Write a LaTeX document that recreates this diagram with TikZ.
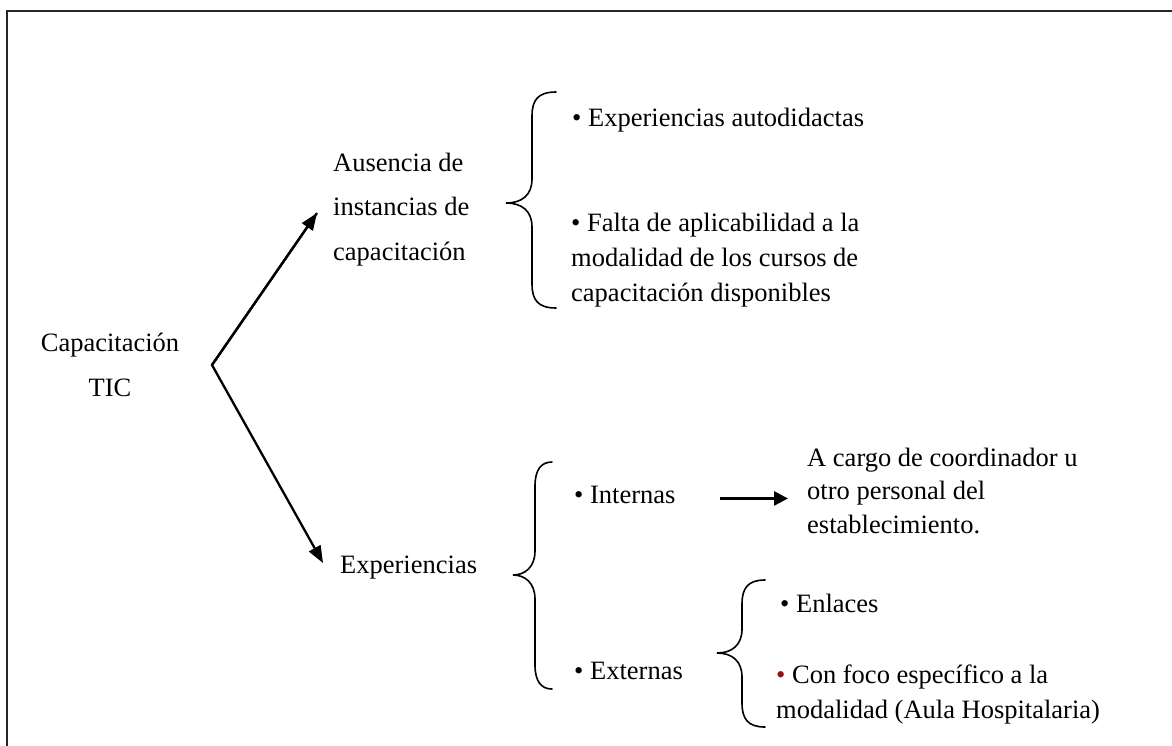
\documentclass[tikz,border=0pt]{standalone}
\usepackage{fontspec}
\setmainfont{Liberation Serif}
\usetikzlibrary{arrows.meta}
\definecolor{bulletred}{RGB}{150,20,20}
\tikzset{
  txt/.style={inner sep=0pt, anchor=base west, align=left, font=\fontsize{26.5}{33.5}\selectfont},
  bigtxt/.style={inner sep=0pt, align=left, font=\fontsize{26.5}{44.5}\selectfont},
  arr/.style={line width=2.3pt, -{Triangle[length=17pt,width=13pt]}},
  bracestyle/.style={line width=1.6pt, line cap=round}
}
\newcommand\cbrace[6]{% xend, xvert, xtip, ytop, ytip, ybot
  \draw[bracestyle] (#1,#4) .. controls ({#2+6},#4) and (#2,{#4+8}) .. (#2,{#4+24})
    -- (#2,{#5-24}) .. controls (#2,{#5-8}) and ({#2-10},#5) .. (#3,#5)
    .. controls ({#2-10},#5) and (#2,{#5+8}) .. (#2,{#5+24})
    -- (#2,{#6-24}) .. controls (#2,{#6-8}) and ({#2+6},#6) .. (#1,#6);}
\begin{document}
\begin{tikzpicture}[x=1pt,y=-1pt]
\useasboundingbox (0,0) rectangle (1172,745);
\clip (0,0) rectangle (1172,745);
\draw[line width=2pt, draw=black!85] (7,11) rectangle (1200,800);

% left labels (base anchor = baseline of the last line)
\node[bigtxt, anchor=base, align=center] (cap) at (110,396) {Capacitación\\TIC};
\node[bigtxt, anchor=base west] (aus) at (333,260) {Ausencia de\\instancias de\\capacitación};
\node[txt] (exp) at (340,573) {Experiencias};

% branching arrows
\coordinate (v) at (212,365);
\coordinate (a1) at (317,213);
\coordinate (a2) at (323,563);
\draw[arr, line join=miter] (a1) -- (v) -- (a2);
\draw[arr] (v) -- (a1);

% first brace group
\cbrace{556}{532}{506}{92}{203}{308}
\node[txt] (l1) at (572,126) {• Experiencias autodidactas};
\node[txt, font=\fontsize{26.5}{35}\selectfont] (l2) at (571,301) {• Falta de aplicabilidad a la\\modalidad de los cursos de\\capacitación disponibles};

% second brace group
\cbrace{552}{535}{513}{462}{575}{689}
\node[txt] (int) at (574,503) {• Internas};
\node[txt] (ext) at (574,679) {• Externas};
\node[txt] (cargo) at (807,533) {A cargo de coordinador u\\otro personal del\\establecimiento.};
\draw[line width=2.6pt, -{Triangle[length=14pt,width=14pt]}, shorten <=44pt, shorten >=19pt] ([yshift=-4pt]int.east) -- ([yshift=-4pt]int.east -| cargo.west);

% third brace group
\cbrace{765}{742}{717}{580}{653}{727}
\node[txt] (enl) at (780,612) {• Enlaces};
\node[txt, font=\fontsize{26.5}{35}\selectfont] (con) at (776,718) {{\color{bulletred}•} Con foco específico a la\\modalidad (Aula Hospitalaria)};
\end{tikzpicture}
\end{document}
